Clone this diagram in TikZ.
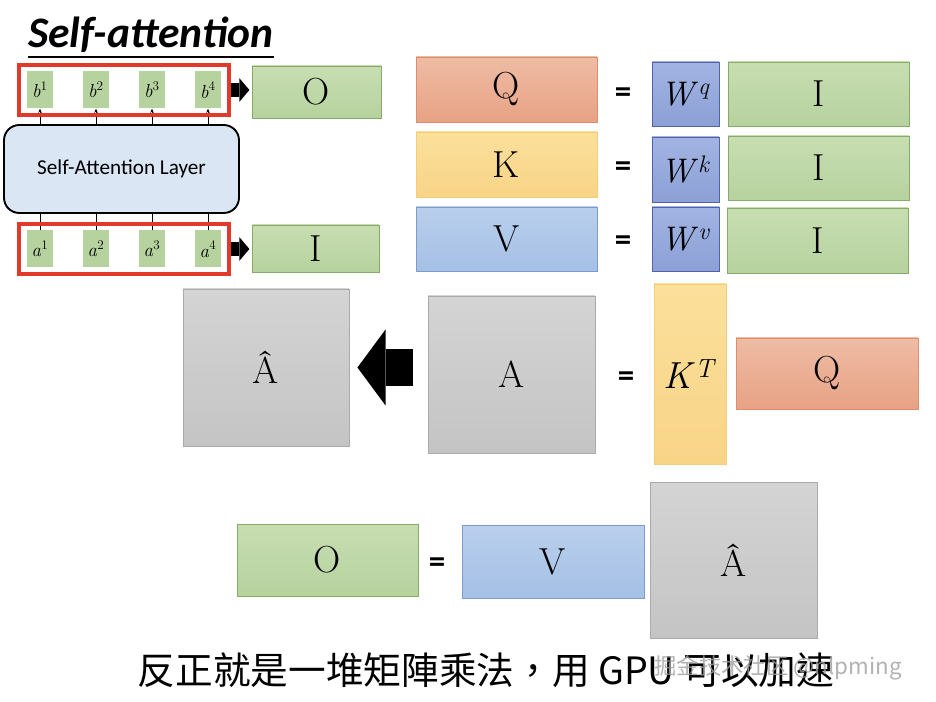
\documentclass[tikz,border=0pt]{standalone}
\usepackage{fontspec}
\newfontfamily\calib{Carlito}
\newfontfamily\cjk{Noto Sans CJK TC}
\newfontfamily\cjksc{Noto Sans CJK SC}
\usetikzlibrary{arrows.meta,positioning,calc,fit}

\definecolor{qtop}{RGB}{238,188,165}
\definecolor{qbot}{RGB}{232,162,132}
\definecolor{qline}{RGB}{222,142,110}
\definecolor{ktop}{RGB}{251,224,155}
\definecolor{kbot}{RGB}{248,212,135}
\definecolor{kline}{RGB}{245,205,120}
\definecolor{vtop}{RGB}{185,207,236}
\definecolor{vbot}{RGB}{165,192,230}
\definecolor{vline}{RGB}{125,155,205}
\definecolor{wtop}{RGB}{162,180,226}
\definecolor{wbot}{RGB}{140,160,215}
\definecolor{wline}{RGB}{80,100,165}
\definecolor{gtop}{RGB}{200,222,178}
\definecolor{gbot}{RGB}{182,210,158}
\definecolor{gline}{RGB}{135,170,105}
\definecolor{atop}{RGB}{212,212,212}
\definecolor{abot}{RGB}{196,196,196}
\definecolor{aline}{RGB}{170,170,170}
\definecolor{frred}{RGB}{226,58,42}
\definecolor{layblue}{RGB}{218,230,243}

\newcommand{\vsup}[2]{\textit{#1}\textsuperscript{\textit{#2}}}

\tikzset{
    >={Stealth[length=3.5pt,width=3pt]},
    mat/.style 2 args={rectangle, draw, inner sep=0pt, minimum width=#1*0.85pt, minimum height=#2*0.85pt, font=\fontsize{32}{34}\selectfont},
    qmat/.style={top color=qtop, bottom color=qbot, draw=qline},
    kmat/.style={top color=ktop, bottom color=kbot, draw=kline},
    vmat/.style={top color=vtop, bottom color=vbot, draw=vline},
    wmat/.style={top color=wtop, bottom color=wbot, draw=wline, font=\fontsize{29}{31}\selectfont},
    gmat/.style={top color=gtop, bottom color=gbot, draw=gline},
    amat/.style={top color=atop, bottom color=abot, draw=aline},
    tok/.style={rectangle, fill=gbot, inner sep=0pt, minimum width=26*0.85pt, minimum height=37*0.85pt, font=\fontsize{16}{18}\selectfont},
    frame/.style={rectangle, draw=frred, line width=3.4pt, inner xsep=7pt, inner ysep=5pt},
    layer/.style={rectangle, rounded corners=13pt, draw, line width=1.6pt, fill=layblue, minimum width=235*0.85pt, minimum height=88*0.85pt, font=\calib\fontsize{18}{20}\selectfont},
    eq/.style={font=\calib\bfseries\fontsize{28}{30}\selectfont, inner sep=0pt},
    blk/.style={line width=12pt, -{Triangle[length=8.5pt,width=20pt,line width=0pt]}, shorten >=2pt},
    bigblk/.style={line width=32pt, -{Triangle[length=24pt,width=65pt,line width=0pt]}, shorten <=12.5pt, shorten >=7pt},
    title/.style={font=\calib\bfseries\itshape\fontsize{37}{39}\selectfont, inner sep=0pt},
    note/.style={font=\cjk\fontsize{32}{34}\selectfont, inner sep=0pt},
    wmark/.style={font=\cjksc\fontsize{19}{21}\selectfont, text=gray!75, opacity=0.8, inner sep=0pt}
}

\begin{document}
\begin{tikzpicture}[x=0.85pt, y=-0.85pt]
    \useasboundingbox[fill=white] (0,0) rectangle (936,702);

    % title
    \node[title, anchor=base west] (ttl) at (28,48) {Self-attention};
    \draw[line width=1.3pt] ($(ttl.base west)+(0,9)$) -- ($(ttl.base east)+(0,9)$);

    % self-attention layer with inputs and outputs
    \node[layer] (sal) at (121.5,169) {Self-Attention Layer};
    \foreach \i in {1,...,4} {
        \node[tok] (b\i) at (\i*56-16,90) {\vsup{b}{\upshape\i}};
        \node[tok] (a\i) at (\i*56-16,249) {\vsup{a}{\upshape\i}};
        \draw[->, line width=0.8pt] (sal.north -| b\i) -- (b\i.south);
        \draw[line width=0.8pt] (a\i.north) -- (sal.south -| a\i);
    }
    \node[frame, fit=(b1)(b4)] (bfr) {};
    \node[frame, fit=(a1)(a4)] (afr) {};

    \node[mat={129}{52}, gmat] (O1) at (316.5,92) {O};
    \node[mat={127}{47}, gmat] (I0) at (315.5,248.5) {I};
    \draw[blk] (bfr.east) -- (bfr.east -| O1.west);
    \draw[blk] (afr.east) -- (afr.east -| I0.west);

    % Q, K, V
    \node[mat={181}{65}, qmat] (Q1) at (506.5,89.5) {Q};
    \node[eq] (e1) at (623,95) {=};
    \node[mat={67}{64}, wmat] (Wq) at (685.5,94) {\vsup{W}{q}};
    \node[mat={181}{64}, gmat] (I1) at (818.5,94) {I};

    \node[mat={181}{65}, kmat] (K1) at (506.5,164.5) {K};
    \node[eq] (e2) at (623,169) {=};
    \node[mat={67}{65}, wmat] (Wk) at (685.5,169.5) {\vsup{W}{k}};
    \node[mat={181}{64}, gmat] (I2) at (818.5,168) {I};

    \node[mat={181}{64}, vmat] (V1) at (506.5,239) {V};
    \node[eq] (e3) at (623,243) {=};
    \node[mat={67}{64}, wmat] (Wv) at (685.5,239) {\vsup{W}{v}};
    \node[mat={181}{65}, gmat] (I3) at (817.5,240.5) {I};

    % attention matrix
    \node[mat={166}{157}, amat] (Ah1) at (266,367.5) {Â};
    \node[mat={167}{157}, amat] (A1) at (511.5,374.5) {A};
    \draw[bigblk] (Ah1.east -| A1.west) -- (Ah1.east);
    \node[eq] (e4) at (626,379) {=};
    \node[mat={72}{180}, kmat] (KT) at (690,374) {\vsup{K}{T}};
    \node[mat={182}{71}, qmat] (Q2) at (827,373.5) {Q};

    % output
    \node[mat={181}{72}, gmat] (O2) at (327.5,560) {O};
    \node[eq] (e5) at (437,565) {=};
    \node[mat={182}{73}, vmat] (V2) at (553,561.5) {V};
    \node[mat={167}{156}, amat] (Ah2) at (733.5,560) {Â};

    \node[note] (txt) at (486,670) {反正就是一堆矩陣乘法，用 GPU 可以加速};
    \node[wmark] (wm) at (778,668) {掘金技术社区 @nlpming};
\end{tikzpicture}
\end{document}
